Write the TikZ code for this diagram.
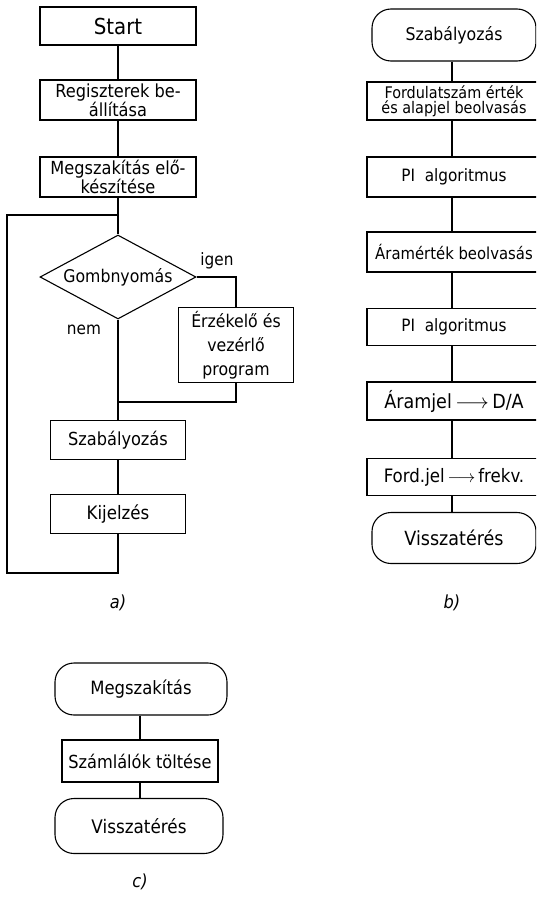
\documentclass[tikz,border=0pt]{standalone}
\usepackage{fontspec}
\setmainfont{DejaVu Sans Condensed}
\usetikzlibrary{shapes.geometric}

\tikzset{
  box/.style={draw, line width=1.1pt, align=center, inner sep=0pt,
    font=\fontsize{18}{19}\selectfont},
  term/.style={box, rounded corners=19pt},
  wide/.style={font=\fontsize{19.5}{20}\selectfont},
  lbl/.style={font=\fontsize{17}{18}\selectfont},
  sublabel/.style={font=\fontsize{18}{20}\itshape},
  wire/.style={line width=1.1pt}
}

\begin{document}
\begin{tikzpicture}[x=1pt, y=-1pt]
\useasboundingbox (0,0) rectangle (536,899);
\clip (0,0) rectangle (536,899);

% a) main program
\node[box, minimum width=156, minimum height=38, font=\fontsize{22}{24}\selectfont] (start) at (118,26) {Start};
\node[box, minimum width=156, minimum height=40, font=\fontsize{18}{17}\selectfont] (regist) at (118,100) {Regiszterek be-\\állítása};
\node[box, minimum width=156, minimum height=40, font=\fontsize{18}{17}\selectfont] (prep) at (118,177) {Megszakítás elő-\\készítése};
\node[box, diamond, aspect=1.86, minimum width=156, minimum height=84,
      font=\fontsize{17.5}{18}\selectfont] (button) at (118,277) {Gombnyomás};
\node[box, minimum width=115, minimum height=75, font=\fontsize{17.5}{24}\selectfont] (sensor) at (236,345) {Érzékelő és\\vezérlő\\program};
\node[box, minimum width=135, minimum height=39] (control) at (118,440) {Szabályozás};
\node[box, minimum width=135, minimum height=39, font=\fontsize{18.5}{19}\selectfont] (display) at (118,514) {Kijelzés};

\coordinate (loopin) at (118,215);
\coordinate (merge) at (118,402);
\coordinate (loopout) at (118,573);

\draw[wire] (start) -- (regist);
\draw[wire] (regist) -- (prep);
\draw[wire] (prep) -- (button);
\draw[wire] (button.east) -| (sensor.north);
\draw[wire] (sensor.south) |- (merge);
\draw[wire] (button.south) -- (control);
\draw[wire] (control) -- (display);
\draw[wire] (display.south) -- (loopout) -- (7,573) -- (7,215) -- (loopin);

\node[lbl] (yes) at (217,261) {igen};
\node[lbl] (no) at (84,330) {nem};
\node[sublabel] (capa) at (118,603) {a)};

% b) control routine
\node[term, minimum width=164, minimum height=52, font=\fontsize{17.5}{18}\selectfont] (ctrlT) at (454,35) {Szabályozás};
\node[box, minimum width=174, minimum height=38, font=\fontsize{16}{15}\selectfont] (speed) at (454,101) {Fordulatszám érték\\és alapjel beolvasás};
\node[box, minimum width=174, minimum height=40, font=\fontsize{17}{18}\selectfont] (pione) at (454,177) {PI\ \ algoritmus};
\node[box, minimum width=174, minimum height=40, font=\fontsize{16.5}{18}\selectfont] (current) at (454,252) {Áramérték beolvasás};
\node[box, minimum width=174, minimum height=37, font=\fontsize{17}{18}\selectfont] (pitwo) at (454,327) {PI\ \ algoritmus};
\node[box, wide, minimum width=174, minimum height=38] (da) at (454,401) {Áramjel$\,\longrightarrow\,$D/A};
\node[box, minimum width=174, minimum height=37, font=\fontsize{18.5}{19}\selectfont] (freq) at (454,477) {Ford.jel$\,\longrightarrow\,$frekv.};
\node[term, wide, minimum width=164, minimum height=51] (retb) at (454,538) {Visszatérés};

\coordinate (spine) at (452,0);
\draw[wire] (ctrlT.south -| spine) -- (speed.north -| spine);
\draw[wire] (speed.south -| spine) -- (pione.north -| spine);
\draw[wire] (pione.south -| spine) -- (current.north -| spine);
\draw[wire] (current.south -| spine) -- (pitwo.north -| spine);
\draw[wire] (pitwo.south -| spine) -- (da.north -| spine);
\draw[wire] (da.south -| spine) -- (freq.north -| spine);
\draw[wire] (freq.south -| spine) -- (retb.north -| spine);

\node[sublabel] (capb) at (452,603) {b)};

% c) interrupt routine
\node[term, minimum width=172, minimum height=52, font=\fontsize{18.3}{19}\selectfont] (intT) at (141,689) {Megszakítás};
\node[box, minimum width=156, minimum height=42, font=\fontsize{18}{19}\selectfont] (counter) at (140,761) {Számlálók töltése};
\node[term, minimum width=168, minimum height=55, font=\fontsize{18.7}{19}\selectfont] (retc) at (139,826) {Visszatérés};

\draw[wire] (intT.south -| counter) -- (counter);
\draw[wire] (counter) -- (retc.north -| counter);

\node[sublabel] (capc) at (140,882) {c)};
\end{tikzpicture}
\end{document}
